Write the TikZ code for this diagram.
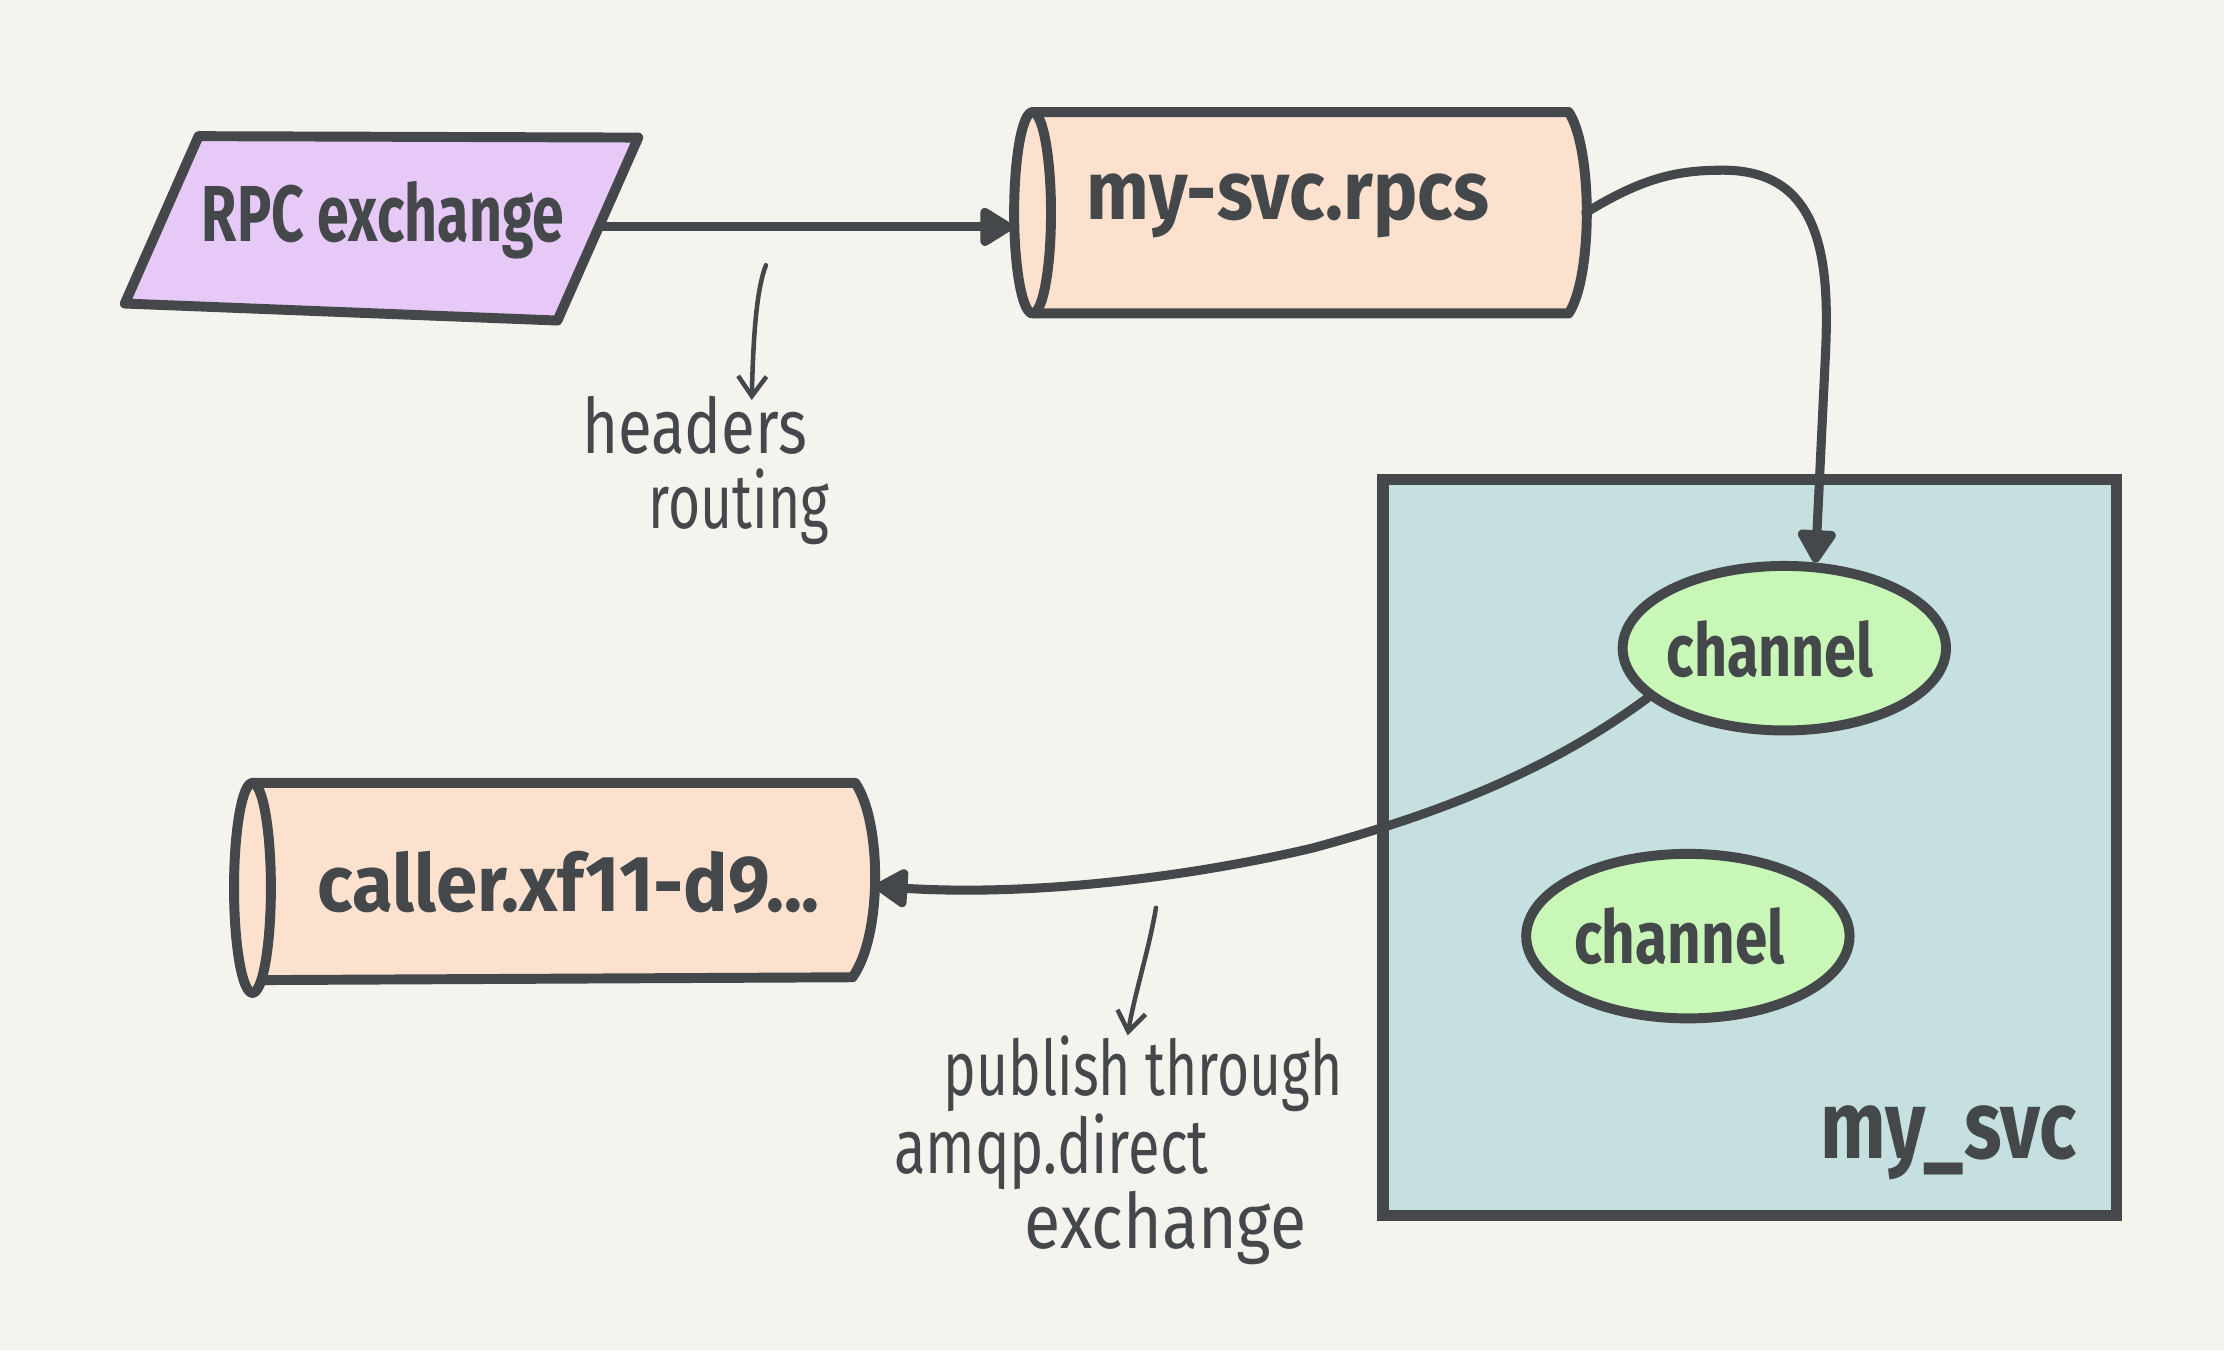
\documentclass[tikz,border=0pt]{standalone}
\usepackage{fontspec}
\usepackage{graphicx}
\usetikzlibrary{shapes.geometric,arrows.meta}
\newfontfamily\hand[FakeStretch=0.72]{Fira Sans}
\definecolor{bg}{RGB}{245,243,238}
\definecolor{ink}{RGB}{68,72,75}
\definecolor{purp}{RGB}{230,201,246}
\definecolor{peach}{RGB}{252,226,206}
\definecolor{sky}{RGB}{198,224,226}
\definecolor{lime}{RGB}{200,247,184}
\begin{document}
\begin{tikzpicture}[x=0.5pt,y=-0.5pt,
  outline/.style={draw=ink,line width=3.5pt,line join=round,line cap=round},
  lbl/.style={text=ink,font=\hand\bfseries\fontsize{28}{30}\selectfont,inner sep=0pt},
  chlbl/.style={text=ink,font=\hand\bfseries\fontsize{26}{28}\selectfont},
  note/.style={text=ink,font=\hand\fontsize{27}{29}\selectfont,inner sep=0pt},
  conn/.style={draw=ink,line width=3.2pt,line cap=round,-{Triangle[length=13pt,width=15pt,round]}},
  thinarrow/.style={draw=ink,line width=1.6pt,line cap=round,-{Straight Barb[length=7pt,width=10pt]}},
  holder/.style={inner sep=0pt,outer sep=0pt},
  chan/.style={ellipse,outline,fill=lime,minimum width=114pt,minimum height=58pt,inner sep=0pt}]

\fill[bg] (0,0) rectangle (1568,952);
\useasboundingbox (0,0) rectangle (1568,952);

% service box
\node[holder,draw=ink,line width=4pt,fill=sky,minimum width=258.5pt,minimum height=259.5pt] (svc) at (1233.5,597.5) {};
\node[lbl,font=\hand\bfseries\fontsize{34}{36}\selectfont] (svcname) at (1374,806) {\scalebox{1.12}[1]{my\_svc}};

% channels
\node[chan] (ch1) at (1258,457) {};
\node[chlbl] (ch1t) at (1248,458) {\scalebox{1.08}[1]{channel}};
\node[chan] (ch2) at (1190,660) {};
\node[chlbl] (ch2t) at (1184,660) {\scalebox{1.1}[1]{channel}};

% RPC exchange parallelogram
\path[outline,fill=purp] (140,96) -- (450,97) -- (393,226) -- (88,214) -- cycle;
\node[lbl] (rpc) at (270,155) {RPC exchange};
\coordinate (rpcR) at (424,160);

% queue my-svc.rpcs
\node[holder,minimum width=202pt,minimum height=71pt] (q1) at (916,150) {};
\path[outline,fill=peach] (728,79) -- (1106,79) .. controls (1123,105) and (1123,195) .. (1106,221) -- (728,221) -- cycle;
\path[outline,fill=peach] (728,150) ellipse[x radius=6.5pt,y radius=35.5pt];
\node[lbl] (q1t) at (908,145) {\scalebox{1.3}[1.05]{my-svc.rpcs}};

% queue caller
\node[holder,minimum width=226pt,minimum height=75pt] (q2) at (391,625) {};
\path[outline,fill=peach] (178,552) -- (603,552) .. controls (622,580) and (622,660) .. (601,689) -- (185,691) -- (178,700) -- cycle;
\path[outline,fill=peach] (178,626) ellipse[x radius=6.5pt,y radius=37pt];
\node[lbl] (q2t) at (401,622) {\scalebox{1.3}[1]{caller.xf11-d9...}};

% connectors
\draw[conn] (rpcR) -- (q1.west |- rpcR);
\coordinate (top1) at (1215,120);
\coordinate (bend1) at (1287,250);
\draw[conn] (q1.east) .. controls (1160,124) and (1185,120) .. (top1)
   .. controls (1285,120) and (1290,185) .. (bend1) -- (ch1.70);
\coordinate (mid3) at (925,598);
\draw[conn] (ch1.200) .. controls (1090,545) and (1010,575) .. (mid3)
   .. controls (840,618) and (730,632) .. (q2.east);

% annotations
\coordinate (a1s) at (540,187);
\coordinate (a1e) at (530,282);
\draw[thinarrow] (a1s) .. controls (533,205) and (531,240) .. (a1e);
\node[note,anchor=west] (hd) at (410,300) {\scalebox{1.12}[1]{headers}};
\node[note,anchor=west] (rt) at (457,357) {routing};

\coordinate (a2s) at (815,640);
\coordinate (a2e) at (795,730);
\draw[thinarrow] (a2s) .. controls (810,670) and (800,700) .. (a2e);
\node[note,anchor=west] (pt) at (665,757) {publish through};
\node[note,anchor=west] (am) at (630,812) {\scalebox{1.05}[1]{amqp.direct}};
\node[note,anchor=west] (xc) at (722,866) {\scalebox{1.2}[1]{exchange}};
\end{tikzpicture}
\end{document}
